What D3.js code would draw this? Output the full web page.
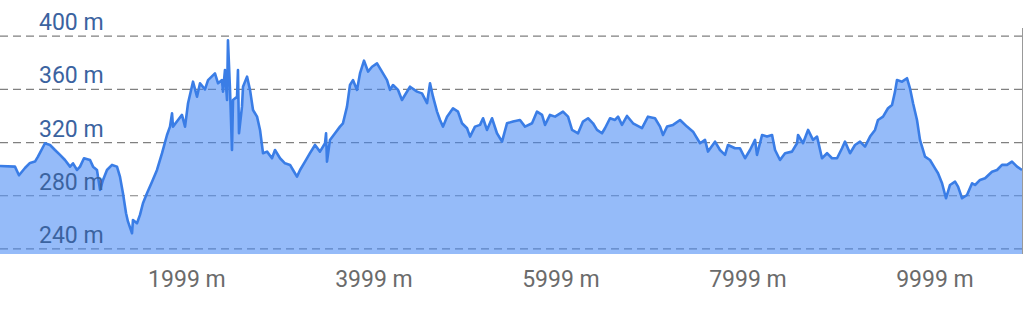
<!DOCTYPE html>
<html>
<head>
<meta charset="utf-8">
<script src="https://cdn.jsdelivr.net/npm/d3@7"></script>
<style>
  body { margin: 0; background: #fff; }
  #chart text { font-family: Roboto, "Noto Sans", sans-serif; }
</style>
</head>
<body>
<div id="chart"></div>
<script>
// Elevation profile data (distance in m, elevation in m)
var distances = [
  0, 160, 203, 267, 321, 374, 406, 481, 535, 588, 642, 695, 749, 781, 824, 856, 898, 963, 995, 1037,
  1070, 1102, 1144, 1198, 1251, 1283, 1315, 1348, 1369, 1412, 1422, 1465, 1497, 1529, 1572, 1626, 1679, 1733, 1786, 1818,
  1840, 1850, 1904, 1946, 1979, 2011, 2064, 2107, 2139, 2192, 2225, 2299, 2332, 2374, 2385, 2406, 2428, 2438, 2460, 2481,
  2492, 2535, 2545, 2556, 2588, 2599, 2642, 2674, 2706, 2749, 2781, 2813, 2856, 2909, 2941, 2995, 3048, 3102, 3134, 3176,
  3209, 3262, 3315, 3369, 3422, 3476, 3487, 3497, 3529, 3583, 3636, 3668, 3711, 3743, 3775, 3818, 3850, 3893, 3936, 3979,
  4032, 4085, 4139, 4171, 4203, 4257, 4299, 4331, 4385, 4460, 4513, 4567, 4599, 4631, 4674, 4706, 4738, 4781, 4845, 4898,
  4941, 4995, 5027, 5080, 5134, 5166, 5208, 5262, 5315, 5369, 5422, 5487, 5561, 5615, 5690, 5743, 5797, 5829, 5882, 5936,
  6021, 6075, 6118, 6182, 6235, 6289, 6342, 6385, 6438, 6470, 6524, 6577, 6610, 6652, 6706, 6770, 6866, 6930, 7005, 7059,
  7091, 7134, 7198, 7273, 7347, 7412, 7487, 7540, 7572, 7647, 7700, 7754, 7786, 7861, 7914, 7968, 8021, 8075, 8096, 8150,
  8203, 8257, 8289, 8342, 8396, 8470, 8524, 8535, 8588, 8642, 8695, 8738, 8791, 8845, 8898, 8952, 9005, 9037, 9091, 9144,
  9198, 9251, 9305, 9358, 9390, 9444, 9497, 9540, 9572, 9593, 9647, 9700, 9732, 9765, 9807, 9839, 9893, 9946, 10000, 10032,
  10075, 10117, 10160, 10214, 10246, 10289, 10342, 10396, 10428, 10481, 10535, 10609, 10663, 10716, 10770, 10823, 10877, 10930
];
var elevations = [
  302.4, 301.9, 295.4, 300.9, 304.7, 305.7, 309.4, 319.5, 318.2, 314.4, 310.7, 306.9, 301.9, 304.4, 299.4, 301.9, 308.2, 306.9, 301.9, 299.4,
  284.4, 291.9, 299.4, 303.2, 301.9, 294.4, 281.9, 266.8, 260.5, 251.8, 261.8, 259.3, 265.6, 274.4, 281.9, 290.6, 299.4, 312, 325.7, 332,
  342, 332, 337, 340.8, 332, 349.6, 365.8, 354.5, 364.6, 360, 367, 372, 364.6, 367, 358.3, 374.6, 352, 397, 359.6, 314.4,
  352, 354.5, 374.6, 327, 347, 362, 369.6, 359.6, 344.5, 339.5, 329.5, 312, 313.2, 308.2, 314.4, 308.2, 304.4, 303.2, 299.4, 294.4,
  299.4, 305.7, 312, 318.2, 313.2, 319.5, 327, 305.7, 322, 327, 332, 334.5, 347, 363.3, 367, 359.6, 372, 381.6, 373.4, 377,
  379.6, 373.4, 367, 359.6, 363.3, 359.6, 352, 355.8, 362, 358.3, 357, 349.6, 364.6, 354.5, 343.3, 337, 332, 339.5, 345.8, 343.3,
  334.5, 330.8, 324.5, 332, 333.3, 338.3, 329.5, 338.3, 327, 320.7, 334.5, 335.8, 337, 332, 334.5, 343.3, 340.8, 333.3, 340.8, 339.5,
  343.3, 339.5, 329.5, 327, 335.8, 338.3, 334.5, 329.5, 327, 330.8, 338.3, 337, 339.5, 333.3, 340, 334.5, 330.8, 339.5, 338.3, 332,
  325.7, 332, 333.3, 337, 332, 328.2, 319.5, 322, 313.2, 320.7, 314.4, 310.7, 318.2, 315.7, 315.7, 308.2, 314.4, 322, 310.7, 325.7,
  324.5, 325.7, 314.4, 306.9, 312, 313.2, 319.5, 325.7, 319.5, 329.5, 322, 324.5, 308.2, 312, 308.2, 308.2, 315.7, 320.7, 312, 318.2,
  320.7, 317, 324.5, 329.5, 337, 339.5, 345.8, 348.3, 358.3, 367, 365.8, 368.4, 360.8, 349.6, 337, 322, 309.4, 306.9, 300.6, 296.9,
  289.4, 278.1, 288.1, 290.6, 286.9, 278.1, 280.6, 289.4, 288.1, 291.9, 293.2, 298.1, 299.4, 303.2, 303.2, 305.7, 301.9, 299.4
];
var yTicks = [240, 280, 320, 360, 400];
var xTicks = [1999, 3999, 5999, 7999, 9999];

var width = 1024, height = 313;
var plotLeft = 0, plotRight = 1022, plotTop = 36.2, plotBottom = 254;

var data = distances.map(function (d, i) { return { dist: d, ele: elevations[i] }; });

var svg = d3.select("#chart")
  .append("svg")
  .attr("width", width)
  .attr("height", height);

var xScale = d3.scaleLinear()
  .domain([0, 10930])
  .range([plotLeft, plotRight]);

var yScale = d3.scaleLinear()
  .domain([236.2, 400])
  .range([plotBottom, plotTop]);

// Dashed grid lines
svg.append("g")
  .selectAll("line")
  .data(yTicks)
  .enter()
  .append("line")
  .attr("x1", plotLeft)
  .attr("x2", plotRight)
  .attr("y1", function (d) { return yScale(d); })
  .attr("y2", function (d) { return yScale(d); })
  .attr("stroke", "#808080")
  .attr("stroke-width", 1.2)
  .attr("stroke-dasharray", "8,5");

// Filled area under the profile
var area = d3.area()
  .x(function (d) { return xScale(d.dist); })
  .y0(plotBottom)
  .y1(function (d) { return yScale(d.ele); });

svg.append("path")
  .datum(data)
  .attr("d", area)
  .attr("fill", "rgb(66,133,244)")
  .attr("fill-opacity", 0.56);

// Profile line
var line = d3.line()
  .x(function (d) { return xScale(d.dist); })
  .y(function (d) { return yScale(d.ele); });

svg.append("path")
  .datum(data)
  .attr("d", line)
  .attr("fill", "none")
  .attr("stroke", "#3a7de6")
  .attr("stroke-width", 2.6)
  .attr("stroke-linejoin", "round");

// Right border
svg.append("line")
  .attr("x1", plotRight + 0.5)
  .attr("x2", plotRight + 0.5)
  .attr("y1", 28)
  .attr("y2", plotBottom)
  .attr("stroke", "#999")
  .attr("stroke-width", 1);

// Y labels above grid lines
svg.append("g")
  .selectAll("text")
  .data(yTicks)
  .enter()
  .append("text")
  .attr("x", 39)
  .attr("y", function (d) { return yScale(d) - 6; })
  .attr("fill", "#3b63a0")
  .style("font-size", "23px")
  .text(function (d) { return d + " m"; });

// X labels
svg.append("g")
  .selectAll("text")
  .data(xTicks)
  .enter()
  .append("text")
  .attr("x", function (d) { return xScale(d); })
  .attr("y", 287)
  .attr("fill", "#6b6b6b")
  .style("font-size", "23px")
  .style("text-anchor", "middle")
  .text(function (d) { return d + " m"; });
</script>
</body>
</html>
